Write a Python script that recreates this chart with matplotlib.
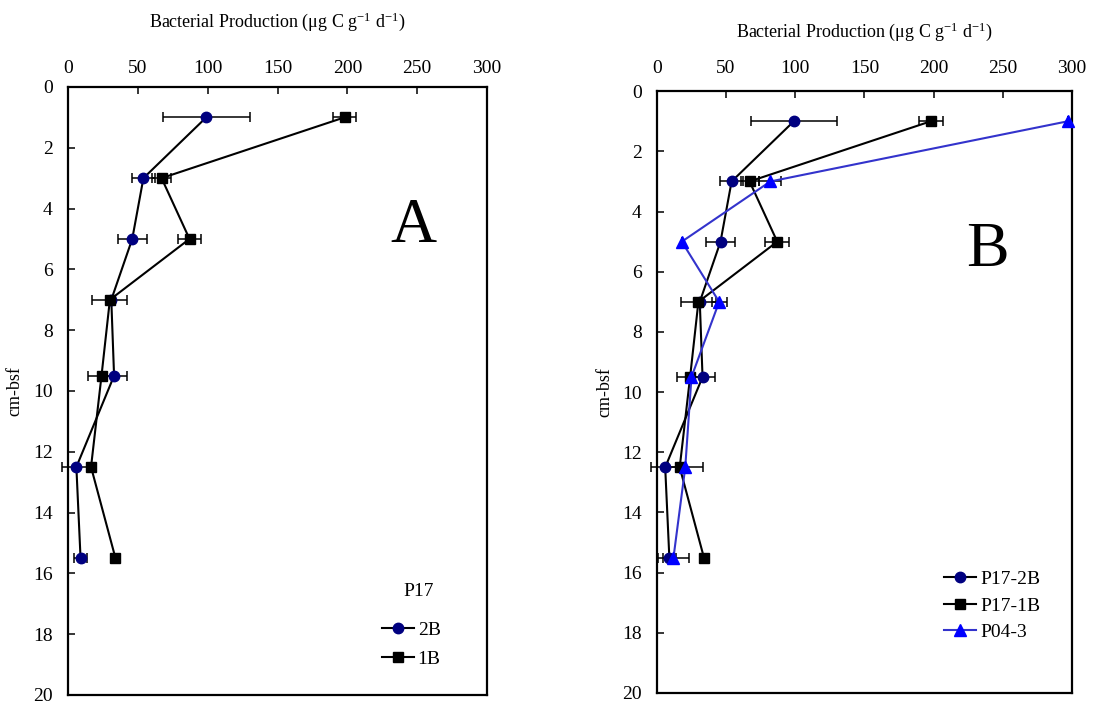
import numpy as np
import matplotlib
matplotlib.use('Agg')
from matplotlib import pyplot as plt

plt.rcParams['font.family'] = ['Liberation Serif', 'DejaVu Serif']
plt.rcParams['mathtext.fontset'] = 'custom'
plt.rcParams['mathtext.rm'] = 'Liberation Serif'
plt.rcParams['mathtext.it'] = 'Liberation Serif'

# depth (cm below sea floor)
depth = [1, 3, 5, 7, 9.5, 12.5, 15.5]

# P17 core 2B
p17_2b = [99, 54, 46, 31, 33, 6, 9]
p17_2b_err = [31, 8.5, 10.5, 0, 9, 10, 4.5]

# P17 core 1B
p17_1b = [198, 67, 87, 30, 24, 16.5, 34]
p17_1b_err = [8.5, 6.5, 8.5, 12.5, 9.5, 0, 0]

# P04 core 3
p04_3 = [297, 82, 18, 45, 25, 20.5, 12]
p04_3_err = [0, 8, 0, 5.5, 0, 12.5, 11]

xticks = [0, 50, 100, 150, 200, 250, 300]
yticks = [0, 2, 4, 6, 8, 10, 12, 14, 16, 18, 20]
xlab = 'Bacterial Production ($\\mathrm{\\mu}$g C g$^{-1}$ d$^{-1}$)'

fig = plt.figure(figsize=(10.93, 7.08), dpi=100)
axA = fig.add_axes([0.0622, 0.0184, 0.3834, 0.8588])
axB = fig.add_axes([0.601, 0.0212, 0.3797, 0.850])


def draw_series(ax, x, err, marker, mcolor, lcolor, label, ms):
    ax.errorbar(x, depth, xerr=err, fmt='none', ecolor='black', elinewidth=1.1,
                capsize=3.5, capthick=1.1, clip_on=False, zorder=2)
    ax.plot(x, depth, color=lcolor, lw=1.5, marker=marker, ms=ms,
            mfc=mcolor, mec=mcolor, label=label, clip_on=False, zorder=3)


def style(ax, tickpad, labely):
    ax.set_xlim(0, 300)
    ax.set_ylim(20, 0)
    ax.set_xticks(xticks)
    ax.set_yticks(yticks)
    ax.xaxis.tick_top()
    ax.tick_params(axis='x', direction='in', length=5, width=1.1,
                   labelsize=14, pad=tickpad)
    ax.tick_params(axis='y', direction='in', length=5, width=1.1,
                   labelsize=14, pad=11)
    for s in ax.spines.values():
        s.set_linewidth(1.6)
    ax.xaxis.set_label_position('top')
    ax.set_xlabel(xlab, fontsize=13)
    ax.xaxis.set_label_coords(0.5, labely)
    ax.set_ylabel('cm-bsf', fontsize=13)
    ax.yaxis.set_label_coords(-0.106, 0.5)


# Panel A
draw_series(axA, p17_2b, p17_2b_err, 'o', '#000080', 'black', '2B', 7.5)
draw_series(axA, p17_1b, p17_1b_err, 's', 'black', 'black', '1B', 7)
style(axA, 7, 1.098)
axA.text(247, 4.6, 'A', fontsize=46, ha='center', va='center')
axA.text(251, 16.6, 'P17', fontsize=14, ha='center', va='center')
axA.legend(loc='center', bbox_to_anchor=(0.819, 0.083), frameon=False,
           fontsize=14, handlelength=1.65, handletextpad=0.2, labelspacing=0.6)

# Panel B
draw_series(axB, p17_2b, p17_2b_err, 'o', '#000080', 'black', 'P17-2B', 7.5)
draw_series(axB, p17_1b, p17_1b_err, 's', 'black', 'black', 'P17-1B', 7)
draw_series(axB, p04_3, p04_3_err, '^', '#0000ff', '#3333cc', 'P04-3', 8)
style(axB, 10, 1.09)
axB.text(239, 5.3, 'B', fontsize=46, ha='center', va='center')
axB.legend(loc='center', bbox_to_anchor=(0.808, 0.145), frameon=False,
           fontsize=14, handlelength=1.65, handletextpad=0.2, labelspacing=0.45)

fig.savefig('out.png', dpi=100)
